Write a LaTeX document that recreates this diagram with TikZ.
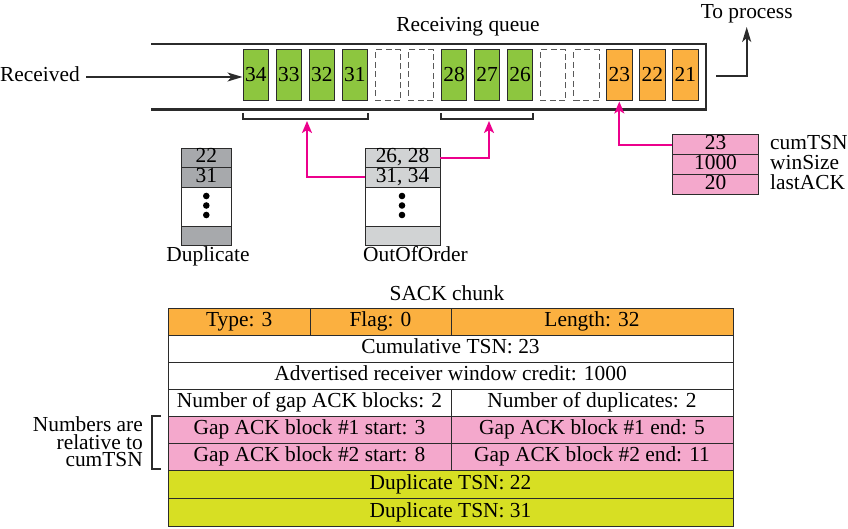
\documentclass[tikz,border=0pt]{standalone}
\usepackage{fontspec}
\setmainfont{Liberation Serif}
\usetikzlibrary{arrows.meta}
\definecolor{qgreen}{HTML}{8DC63F}
\definecolor{qorange}{HTML}{FBB040}
\definecolor{qpink}{HTML}{F4A8CC}
\definecolor{qyellow}{HTML}{D7DF23}
\definecolor{qdgray}{HTML}{A7A9AC}
\definecolor{qlgray}{HTML}{D1D3D4}
\definecolor{qmag}{HTML}{EC008C}
\definecolor{qline}{HTML}{2B2B2B}
\begin{document}
\begin{tikzpicture}[x=1pt,y=-1pt,
  font=\fontsize{21.4}{24}\selectfont,
  txt/.style={inner sep=0pt, text height=14.5pt, text depth=4.5pt},
  ntxt/.style={inner sep=0pt, text height=14.5pt, text depth=0pt, anchor=base east},
  cell/.style={draw=qline, line width=1pt, minimum width=25.5pt, minimum height=51pt, inner sep=0pt, text height=14.5pt, text depth=3pt},
  gcell/.style={cell, fill=qgreen},
  ocell/.style={cell, fill=qorange},
  ecell/.style={cell, draw=black!65, dash pattern=on 6pt off 3.5pt},
  qbar/.style={line width=2.6pt, draw=qline},
  brk/.style={line width=2pt, draw=qline},
  barr/.style={line width=1.7pt, draw=qline, -{Stealth[length=15pt,width=9pt,inset=4pt]}},
  marr/.style={line width=1.8pt, draw=qmag, -{Stealth[length=12pt,width=10pt,inset=3pt]}},
  row/.style={draw=qline, line width=0.9pt, inner sep=0pt, text height=14.5pt, text depth=4.5pt},
  fld/.style={draw=qline, line width=0.9pt, inner sep=0pt, minimum height=27pt, text height=14.5pt, text depth=4.5pt}
]
\useasboundingbox (0,0) rectangle (848,529);

% receiving queue
\draw[qbar] (151,44) -- (706,44) -- (706,109.7) -- (151,109.7);
\node[txt, anchor=base] (rq) at (468,31.5) {Receiving queue};

\node[gcell] (c34) at (255.75,75.5) {34};
\node[gcell] (c33) at (288.8,75.5) {33};
\node[gcell] (c32) at (321.85,75.5) {32};
\node[gcell] (c31) at (354.9,75.5) {31};
\node[ecell] (e1) at (387.95,75.5) {};
\node[ecell] (e2) at (421,75.5) {};
\node[gcell] (c28) at (454.05,75.5) {28};
\node[gcell] (c27) at (487.1,75.5) {27};
\node[gcell] (c26) at (520.15,75.5) {26};
\node[ecell] (e3) at (553.2,75.5) {};
\node[ecell] (e4) at (586.25,75.5) {};
\node[ocell] (c23) at (619.3,75.5) {23};
\node[ocell] (c22) at (652.35,75.5) {22};
\node[ocell] (c21) at (685.4,75.5) {21};

\node[txt, anchor=west] (rec) at (0,77) {Received};
\draw[barr] ([xshift=6pt]rec.east) -- (rec.east -| c34.west);

\node[txt, anchor=base, outer sep=4pt] (tp) at (746.7,18.5) {To process};
\coordinate (qout) at (716,76);
\draw[barr] (qout) -| (tp.south);

% brackets
\draw[brk] (243,113) -- (243,119.5) -- (368,119.5) -- (368,113);
\draw[brk] (441,113) -- (441,119.5) -- (533,119.5) -- (533,113);
\coordinate (br1) at (307,121);
\coordinate (br2) at (489,121);

% Duplicate
\node[row, fill=qdgray, minimum width=50.7pt, minimum height=19pt] (d1) at (206.3,157.8) {22};
\node[row, fill=qdgray, minimum width=50.7pt, minimum height=20pt] (d2) at (206.3,177.3) {31};
\node[row, fill=white, minimum width=50.7pt, minimum height=38.7pt] (d3) at (206.3,206.65) {};
\node[row, fill=qdgray, minimum width=50.7pt, minimum height=19pt] (d4) at (206.3,235.5) {};
\fill (206.3,196) circle (3.3pt) (206.3,205.5) circle (3.3pt) (206.3,215) circle (3.3pt);
\node[txt, anchor=base] (dupl) at (208,261.5) {Duplicate};

% OutOfOrder
\node[row, fill=qlgray, minimum width=75pt, minimum height=19pt] (o1) at (402.5,157.8) {26, 28};
\node[row, fill=qlgray, minimum width=75pt, minimum height=20pt] (o2) at (402.5,177.3) {31, 34};
\node[row, fill=white, minimum width=75pt, minimum height=38.7pt] (o3) at (402.5,206.65) {};
\node[row, fill=qlgray, minimum width=75pt, minimum height=19pt] (o4) at (402.5,235.5) {};
\fill (402,196) circle (3.3pt) (402,205.5) circle (3.3pt) (402,215) circle (3.3pt);
\node[txt, anchor=base west] (oool) at (363,261.5) {OutOfOrder};

% cumTSN box
\node[row, fill=qpink, minimum width=85.6pt, minimum height=19.7pt] (k1) at (715.5,144.8) {23};
\node[row, fill=qpink, minimum width=85.6pt, minimum height=19.7pt] (k2) at (715.5,164.5) {1000};
\node[row, fill=qpink, minimum width=85.6pt, minimum height=19.7pt] (k3) at (715.5,184.2) {20};
\node[txt, anchor=west] (l1) at (770,144.8) {cumTSN};
\node[txt, anchor=west] (l2) at (770,164.5) {winSize};
\node[txt, anchor=west] (l3) at (770,184.2) {lastACK};

% magenta pointers
\draw[marr] (o2.west) -| (br1);
\draw[marr] (o1.east) -| (br2);
\draw[marr] (k1.west) -| (c23.south);

% SACK chunk
\node[txt, anchor=base] (sack) at (447,300) {SACK chunk};
\node[fld, fill=qorange, minimum width=141.7pt] (f1) at (239.2,321.5) {Type: 3};
\node[fld, fill=qorange, minimum width=141pt] (f2) at (380.5,321.5) {Flag: 0};
\node[fld, fill=qorange, minimum width=282pt] (f3) at (592,321.5) {Length: 32};
\node[fld, fill=white, minimum width=565pt] (f4) at (450.5,348.5) {Cumulative TSN: 23};
\node[fld, fill=white, minimum width=565pt] (f5) at (450.5,375.5) {Advertised receiver window credit: 1000};
\node[fld, fill=white, minimum width=283pt] (f6) at (309.5,402.5) {Number of gap ACK blocks: 2};
\node[fld, fill=white, minimum width=282pt] (f7) at (592,402.5) {Number of duplicates: 2};
\node[fld, fill=qpink, minimum width=283pt] (f8) at (309.5,429.5) {Gap ACK block \#1 start: 3};
\node[fld, fill=qpink, minimum width=282pt] (f9) at (592,429.5) {Gap ACK block \#1 end: 5};
\node[fld, fill=qpink, minimum width=283pt] (f10) at (309.5,456.5) {Gap ACK block \#2 start: 8};
\node[fld, fill=qpink, minimum width=282pt] (f11) at (592,456.5) {Gap ACK block \#2 end: 11};
\node[fld, fill=qyellow, minimum width=565pt, minimum height=28pt] (f12) at (450.5,484) {Duplicate TSN: 22};
\node[fld, fill=qyellow, minimum width=565pt, minimum height=28pt] (f13) at (450.5,512) {Duplicate TSN: 31};

% relative note
\draw[brk] (160.7,415.7) -- (151.7,415.7) -- (151.7,469.3) -- (160.7,469.3);
\node[ntxt] (n1) at (143,431) {Numbers are};
\node[ntxt] (n2) at (143,449) {relative to};
\node[ntxt] (n3) at (143,466.7) {cumTSN};
\end{tikzpicture}
\end{document}
